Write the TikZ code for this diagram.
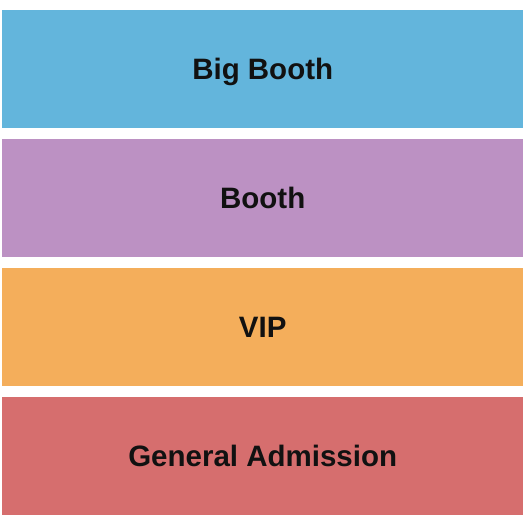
\documentclass[tikz,border=0pt]{standalone}
\usepackage{fontspec}
\setmainfont{Liberation Sans}
\usepackage{tikz}
\definecolor{bigBoothBlue}{HTML}{63B5DC}
\definecolor{boothPurple}{HTML}{BC91C3}
\definecolor{vipOrange}{HTML}{F4AE5B}
\definecolor{gaRed}{HTML}{D66E6E}
\definecolor{labelInk}{HTML}{111111}

\begin{document}
\begin{tikzpicture}[
    x=1pt, y=-1pt,
    section/.style={rectangle, draw=none, minimum width=521pt, minimum height=118pt, inner sep=0pt, anchor=north west, font=\fontsize{29.5}{31}\selectfont\bfseries, text=labelInk, text height=21.1pt, text depth=0pt}
]
\useasboundingbox (0,0) rectangle (525,525);

\node[section, fill=bigBoothBlue] (bigbooth) at (2,10) {Big Booth};
\node[section, fill=boothPurple] (booth) at (2,139) {Booth};
\node[section, fill=vipOrange] (vip) at (2,268) {VIP};
\node[section, fill=gaRed] (general) at (2,397) {General Admission};

\end{tikzpicture}
\end{document}
